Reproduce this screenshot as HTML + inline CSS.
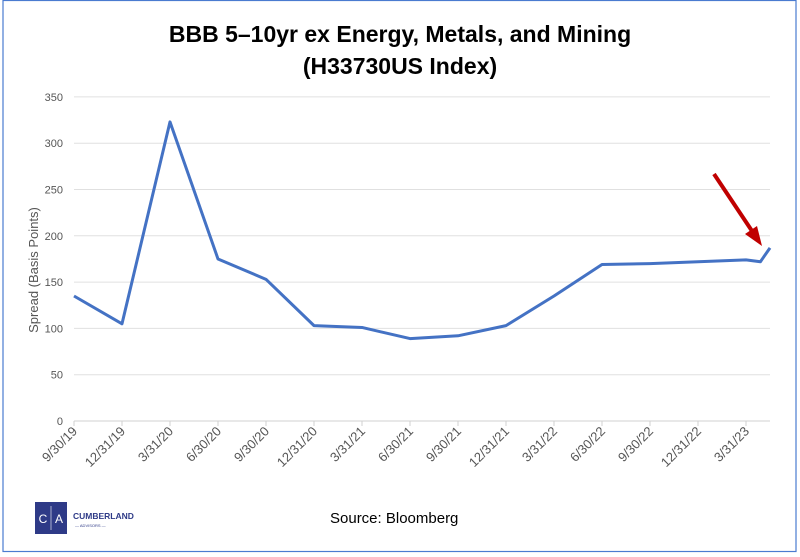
<!DOCTYPE html>
<html><head><meta charset="utf-8"><style>
body{margin:0;background:#fff;font-family:"Liberation Sans",sans-serif}
svg{display:block}
</style></head><body>
<svg width="800" height="557" viewBox="0 0 800 557" id="c">
<rect x="3" y="0.5" width="793" height="551" fill="#fff" stroke="#4a7bd0" stroke-width="1.2"/>
<text x="400" y="42" text-anchor="middle" font-size="23" font-weight="bold" fill="#000">BBB 5–10yr ex Energy, Metals, and Mining</text>
<text x="400" y="74" text-anchor="middle" font-size="23" font-weight="bold" fill="#000">(H33730US Index)</text>
<text transform="translate(38,270) rotate(-90)" text-anchor="middle" font-size="13" fill="#555">Spread (Basis Points)</text>
<g id="grid"></g><g id="xl"></g><g id="yl"></g>
<path id="line" fill="none" stroke="#4472c4" stroke-width="3" stroke-linejoin="round"/>
<line x1="714" y1="174" x2="752" y2="231" stroke="#c00000" stroke-width="4"/>
<polygon points="762,246 745,234 757,226" fill="#c00000"/>
<g>
<rect x="35" y="502" width="32" height="32" fill="#2e3a87"/>
<line x1="51" y1="506" x2="51" y2="530" stroke="#fff" stroke-width="0.6"/>
<text x="43" y="523" text-anchor="middle" font-size="12" fill="#fff">C</text>
<text x="59" y="523" text-anchor="middle" font-size="12" fill="#fff">A</text>
<text x="73" y="519" font-size="8.5" font-weight="bold" fill="#2e3a87">CUMBERLAND</text>
<text x="75" y="527" font-size="4" fill="#2e3a87">— ADVISORS —</text>
</g>
<text x="330" y="523" font-size="15" fill="#000">Source: Bloomberg</text>
</svg>
<script>
const labels=["9/30/19","12/31/19","3/31/20","6/30/20","9/30/20","12/31/20","3/31/21","6/30/21","9/30/21","12/31/21","3/31/22","6/30/22","9/30/22","12/31/22","3/31/23"];
const xIdx=[0,1,2,3,4,5,6,7,8,9,10,11,12,13,14,14.3,14.5];
const values=[135,105,323,175,153,103,101,89,92,103,135,169,170,172,174,172,187];
const yTicks=[0,50,100,150,200,250,300,350];
const NS="http://www.w3.org/2000/svg";
const X=i=>74+i*48, Y=v=>421-v*0.926;
const grid=document.getElementById('grid'),yl=document.getElementById('yl'),xl=document.getElementById('xl');
yTicks.forEach(t=>{
 const l=document.createElementNS(NS,'line');
 l.setAttribute('x1',74);l.setAttribute('x2',770);l.setAttribute('y1',Y(t));l.setAttribute('y2',Y(t));
 l.setAttribute('stroke',t===0?'#d0d0d0':'#e0e0e0');l.setAttribute('stroke-width',1);
 
 
 grid.appendChild(l);
 const tx=document.createElementNS(NS,'text');
 tx.setAttribute('x',63);tx.setAttribute('y',Y(t)+4);tx.setAttribute('text-anchor','end');
 tx.setAttribute('font-size',11);tx.setAttribute('fill','#555');tx.textContent=t;
 
 
 yl.appendChild(tx);
});
labels.forEach((s,i)=>{
 const x=X(i);
 const tk=document.createElementNS(NS,'line');
 tk.setAttribute('x1',x);tk.setAttribute('x2',x);tk.setAttribute('y1',421);tk.setAttribute('y2',426);tk.setAttribute('stroke','#d0d0d0');
 
 
 grid.appendChild(tk);
 const tx=document.createElementNS(NS,'text');
 tx.setAttribute('transform',`translate(${x+4},${432}) rotate(-45)`);
 tx.setAttribute('text-anchor','end');tx.setAttribute('font-size',13);tx.setAttribute('fill','#555');
 tx.textContent=s;
 
 
 xl.appendChild(tx);
});
document.getElementById('line').setAttribute('d',values.map((v,i)=>(i?'L':'M')+X(xIdx[i])+','+Y(v)).join(' '));
</script>
</body></html>
